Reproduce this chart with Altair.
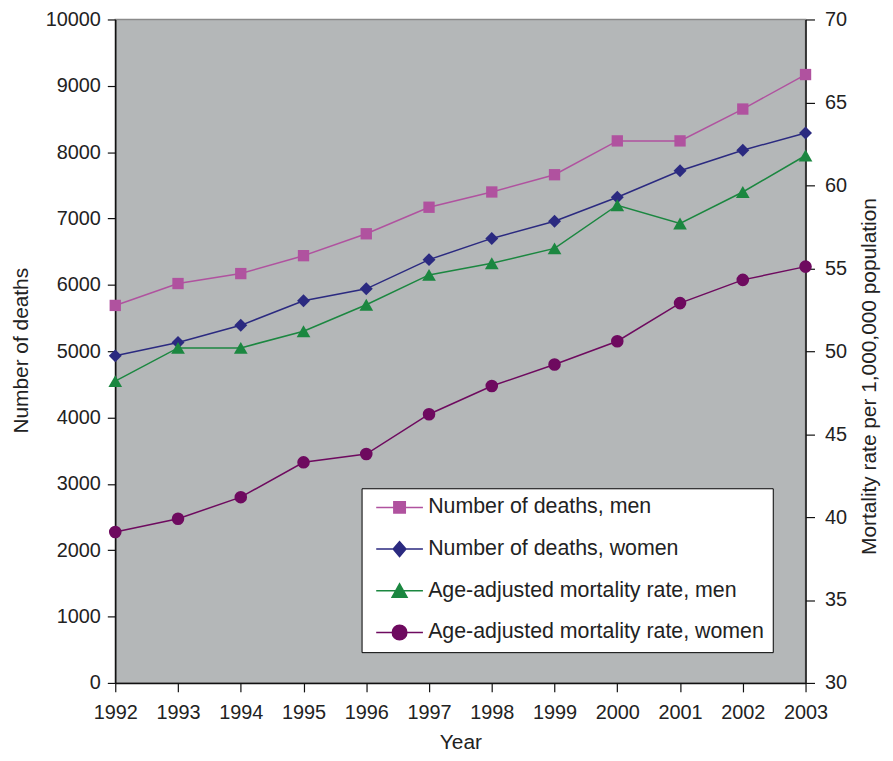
import altair as alt
import pandas as pd

years = list(range(1992, 2004))
deaths_men = [5690, 6020, 6170, 6440, 6770, 7170, 7400, 7660, 8170, 8170, 8650, 9170]
deaths_women = [4930, 5130, 5390, 5760, 5940, 6380, 6700, 6960, 7320, 7720, 8030, 8290]
rate_men = [48.2, 50.2, 50.2, 51.2, 52.8, 54.6, 55.3, 56.2, 58.8, 57.7, 59.6, 61.8]
rate_women = [39.1, 39.9, 41.2, 43.3, 43.8, 46.2, 47.9, 49.2, 50.6, 52.9, 54.3, 55.1]
series_names = [
    "Number of deaths, men",
    "Number of deaths, women",
    "Age-adjusted mortality rate, men",
    "Age-adjusted mortality rate, women",
]

colors = ["#B0529F", "#2B2A80", "#1B8740", "#6E0A5F"]
point_shapes = ["square", "diamond", "triangle-up", "circle"]
point_sizes = [130, 170, 190, 160]
# legend glyphs: a line through a marker (unit = half of sqrt(symbolSize) = 8px)
legend_paths = [
    "M-2.94,0H2.94M-0.72,-0.72H0.72V0.72H-0.72Z",
    "M-2.94,0H2.94M0,-0.94L0.8,0L0,0.94L-0.8,0Z",
    "M-2.94,0H2.94M0,-0.88L0.94,0.8L-0.94,0.8Z",
    "M-2.94,0H2.94M-0.92,0A0.92,0.92,0,1,0,0.92,0A0.92,0.92,0,1,0,-0.92,0Z",
]

all_values = [deaths_men, deaths_women, rate_men, rate_women]
frames = []
for name, vals in zip(series_names, all_values):
    frames.append(pd.DataFrame({"year": years, "value": vals, "series": name}))
df_all = pd.concat(frames, ignore_index=True)

FONT = "Liberation Sans"

x_enc = alt.X(
    "year:Q",
    scale=alt.Scale(domain=[1992, 2003], nice=False, zero=False),
    axis=alt.Axis(values=years, format="d", title="Year", tickSize=9,
                  labelPadding=11, titlePadding=9, labelOverlap=False,
                  labelFlush=False),
)

y_left = alt.Y(
    "value:Q",
    scale=alt.Scale(domain=[0, 10000], nice=False),
    axis=alt.Axis(values=list(range(0, 10001, 1000)), format="d",
                  title="Number of deaths", tickSize=8, labelPadding=7,
                  titlePadding=14, titleY=333, labelOverlap=False,
                  labelFlush=False),
)
y_right = alt.Y(
    "value:Q",
    scale=alt.Scale(domain=[30, 70], nice=False, zero=False),
    axis=alt.Axis(orient="right", values=list(range(30, 71, 5)), format="d",
                  title="Mortality rate per 1,000,000 population",
                  tickSize=9, labelPadding=10, titlePadding=33, titleAngle=270,
                  titleY=359, labelOverlap=False, labelFlush=False),
)


def series_layers(i, y_enc):
    base = alt.Chart(frames[i])
    line = base.mark_line(color=colors[i], strokeWidth=1.5).encode(x=x_enc, y=y_enc)
    pts = base.mark_point(
        filled=True, opacity=1, color=colors[i], shape=point_shapes[i], size=point_sizes[i]
    ).encode(x=x_enc, y=y_enc)
    return [line, pts]


legend_props = dict(
    orient="none", legendX=248, legendY=472, title=None,
    fillColor="white", strokeColor="black",
    padding=8.5, rowPadding=19, symbolSize=256, symbolStrokeWidth=1.5,
    symbolOffset=19, symbolOpacity=1, labelFont=FONT, labelFontSize=21.5,
    labelColor="#222", labelOffset=18, labelLimit=450,
)
legend_layer = alt.Chart(df_all).mark_point(opacity=0, filled=True).encode(
    x=x_enc,
    y=y_left,
    fill=alt.Fill("series:N", scale=alt.Scale(domain=series_names, range=colors),
                  legend=alt.Legend(**legend_props)),
    stroke=alt.Stroke("series:N", scale=alt.Scale(domain=series_names, range=colors),
                      legend=alt.Legend(**legend_props)),
    shape=alt.Shape("series:N", scale=alt.Scale(domain=series_names, range=legend_paths),
                    legend=alt.Legend(**legend_props)),
)

left = alt.layer(*(series_layers(0, y_left) + series_layers(1, y_left) + [legend_layer]))
right = alt.layer(*(series_layers(2, y_right) + series_layers(3, y_right)))

chart = (
    alt.layer(left, right)
    .resolve_scale(y="independent")
    .properties(
        width=695, height=668,
        autosize=alt.AutoSizeParams(type="none"),
        padding={"left": 108, "top": 9, "right": 80, "bottom": 70},
        background="white",
    )
    .configure_view(fill="#B4B7B8", stroke="#8a8a8a", strokeWidth=1.5)
    .configure_axis(
        labelFont=FONT, labelFontSize=20, labelColor="#222",
        titleFont=FONT, titleFontSize=21, titleColor="#222", titleFontWeight="normal",
        tickColor="#111", domainColor="#111", tickWidth=1.2, domainWidth=1.5, grid=False,
    )
)

chart.save("out.html", embed_options={"renderer": "svg", "actions": False})
